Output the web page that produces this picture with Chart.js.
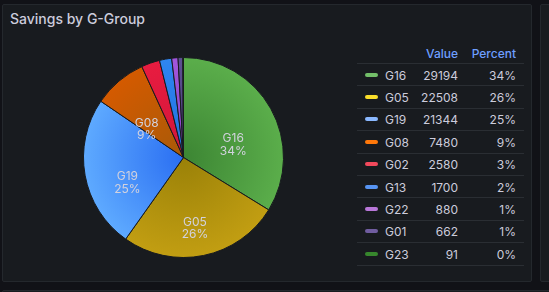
<!DOCTYPE html>
<html lang="en">
<head>
  <meta charset="UTF-8" />
  <title>Savings by G-Group</title>
  <style>
    body {
      margin: 0;
      width: 549px;
      height: 292px;
      overflow: hidden;
      background: #111217;
      font-family: Inter, 'Noto Sans', sans-serif;
      position: relative;
    }
    .panel {
      position: absolute;
      background: #181b1f;
      border: 1px solid #24282d;
      border-radius: 2px;
      box-sizing: border-box;
    }
    #main { left: 2px; top: 4px; width: 530px; height: 278px; }
    #side { left: 540px; top: 4px; width: 40px; height: 278px; }
    #below { left: 2px; top: 290px; width: 600px; height: 40px; }
    .title {
      position: absolute;
      left: 10px;
      top: 10px;
      font-size: 14px;
      font-weight: 500;
      color: #ccccdc;
    }
    #pie-box {
      position: absolute;
      left: 83px;
      top: 57px;
      width: 201px;
      height: 201px;
    }
    #legend {
      position: absolute;
      left: 357px;
      top: 42px;
      width: 167px;
      height: 230px;
      overflow: hidden;
      font-size: 12px;
      color: #ccccdc;
    }
    .row {
      position: relative;
      height: 21.4px;
      border-bottom: 1px solid #2a2e33;
    }
    .row.head { height: 21px; color: #6e9fff; font-weight: 500; }
    .row span { position: absolute; top: 50%; transform: translateY(-50%); white-space: nowrap; }
    .sw { left: 8px; width: 13px; height: 4px; border-radius: 2px; }
    .nm { left: 28px; }
    .vl { right: 66px; }
    .pc { right: 8px; }
  </style>
</head>
<body>
  <div class="panel" id="main"></div>
  <div class="panel" id="side"></div>
  <div class="panel" id="below"></div>
  <div class="title">Savings by G-Group</div>
  <div id="pie-box"><canvas id="pie"></canvas></div>
  <div id="legend"></div>

  <script src="https://cdn.jsdelivr.net/npm/chart.js"></script>
  <script>
    // data
    const groups = ['G16', 'G05', 'G19', 'G08', 'G02', 'G13', 'G22', 'G01', 'G23'];
    const savings = [29194, 22508, 21344, 7480, 2580, 1700, 880, 662, 91];

    // colours (legend swatch, pie gradient centre, pie gradient edge)
    const swatchColors = ['#73BF69', '#FADE2A', '#8AB8FF', '#FF780A', '#F2495C', '#5794F2', '#B877D9', '#705DA0', '#37872D'];
    const pieInner = ['#3c8533', '#9a8108', '#2a6ef2', '#a85a08', '#d0163a', '#2070e0', '#8a44c8', '#4a3f7a', '#2f7a26'];
    const pieOuter = ['#5bae4b', '#c29e12', '#5eaaff', '#d45a00', '#e81c40', '#2f86f0', '#a256dc', '#5d4f92', '#3a8a30'];

    const total = savings.reduce((a, b) => a + b, 0);
    const pct = v => Math.round(v / total * 100) + '%';

    // legend table
    const legend = document.getElementById('legend');
    let html = '<div class="row head"><span class="vl">Value</span><span class="pc">Percent</span></div>';
    groups.forEach((g, i) => {
      html += '<div class="row">' +
        '<span class="sw" style="background:' + swatchColors[i] + '"></span>' +
        '<span class="nm">' + g + '</span>' +
        '<span class="vl">' + savings[i] + '</span>' +
        '<span class="pc">' + pct(savings[i]) + '</span></div>';
    });
    legend.innerHTML = html;

    // slice labels, drawn a little below the mid-angle point like the original
    const sliceLabels = {
      id: 'sliceLabels',
      afterDatasetsDraw(chart) {
        const ctx = chart.ctx;
        const meta = chart.getDatasetMeta(0);
        ctx.save();
        ctx.font = '12px Inter, sans-serif';
        ctx.fillStyle = '#d2d2de';
        ctx.textAlign = 'center';
        ctx.textBaseline = 'middle';
        meta.data.forEach((arc, i) => {
          if (savings[i] / total < 0.05) return;
          const mid = (arc.startAngle + arc.endAngle) / 2;
          const d = arc.outerRadius * 0.57;
          const x = arc.x + Math.cos(mid) * d;
          const y = arc.y + Math.sin(mid) * d;
          ctx.fillText(groups[i], x, y + 9);
          ctx.fillText(pct(savings[i]), x, y + 21.5);
        });
        ctx.restore();
      }
    };

    function sliceFill(c) {
      const i = c.dataIndex;
      const area = c.chart.chartArea;
      if (!area) return pieOuter[i];
      const cx = (area.left + area.right) / 2;
      const cy = (area.top + area.bottom) / 2;
      const r = Math.min(area.right - area.left, area.bottom - area.top) / 2;
      const g = c.chart.ctx.createRadialGradient(cx, cy, 0, cx, cy, r);
      g.addColorStop(0, pieInner[i]);
      g.addColorStop(1, pieOuter[i]);
      return g;
    }

    new Chart(document.getElementById('pie'), {
      type: 'pie',
      data: {
        labels: groups,
        datasets: [{
          data: savings,
          backgroundColor: sliceFill,
          borderColor: '#181b1f',
          borderWidth: 1
        }]
      },
      options: {
        responsive: true,
        maintainAspectRatio: false,
        animation: false,
        layout: { padding: 0 },
        plugins: {
          legend: { display: false },
          tooltip: { enabled: false }
        }
      },
      plugins: [sliceLabels]
    });
  </script>
</body>
</html>
